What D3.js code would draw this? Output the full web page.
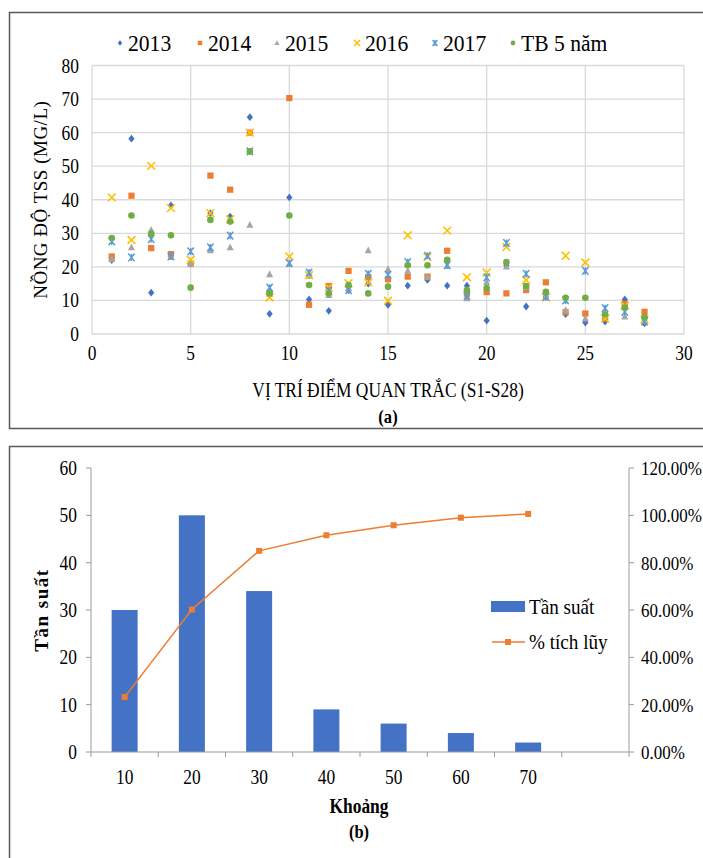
<!DOCTYPE html>
<html>
<head>
<meta charset="utf-8">
<script src="https://cdn.jsdelivr.net/npm/d3@7"></script>
<style>
  body{margin:0;background:#fff;}
  svg text{font-family:"Liberation Serif","Tinos","Times New Roman","DejaVu Serif",serif;}
</style>
</head>
<body>
<div id="chart"></div>
<script>
// chart (a) - TSS by station
const stations = d3.range(1, 29)
const series_names = ["2013","2014","2015","2016","2017","TB 5 năm"]
const v2013 = [22,58.2,12.3,38.3,21,36,35,64.6,6,40.7,10.3,6.9,13,15,8.7,14.4,16.1,14.4,14.4,4.0,20.5,8.2,11,5.9,3.4,3.7,10.3,3.2]
const v2014 = [23.1,41.2,25.6,23.8,21,47.2,43,60,12,70.3,8.7,14.3,18.8,17,16.3,17.1,17.1,24.8,12,12.5,12.1,13.1,15.4,6.5,6.1,4.6,8.9,6.6]
const v2015 = [22.3,25.8,31,23,20.9,24.9,25.8,32.5,17.8,20.9,17.3,11.6,13.6,24.9,19.3,18.8,16.9,20.3,10.6,15.5,20.1,14,10.9,7.1,4.6,5.5,5.2,4.5]
const v2016 = [40.7,28,50.1,37.5,22.1,36,34.2,60,10.9,23.1,17.5,13.9,15.1,15.3,9.9,29.4,22.9,30.8,16.9,18.3,25.9,16.1,10.9,23.3,21.3,4.6,8.4,4.2]
const v2017 = [27.6,22.8,28.3,23.1,24.6,25.8,29.3,54.4,13.8,21.1,18.3,12.9,13.1,17.9,17.6,21.4,23.3,20.5,11.4,16.9,27.1,17.9,11.1,10.0,18.8,7.7,6.6,3.7]
const vAvg = [28.6,35.3,29.9,29.4,13.8,34,33.5,54.4,12.1,35.3,14.6,12.1,14.6,12.1,14.1,20.5,20.5,22.1,13.1,13.7,21.4,14.3,12.6,10.8,10.8,5.9,7.9,5.0]
const xTicksA = [0,5,10,15,20,25,30]
const yTicksA = [0,10,20,30,40,50,60,70,80]

// chart (b) - frequency histogram
const bins = ["10","20","30","40","50","60","70",""]
const freq = [30,50,34,9,6,4,2]
const cumPct = [23.2,60.2,85.0,91.6,95.8,99.0,100.6]
const yTicksB = [0,10,20,30,40,50,60]
const yTicksB2 = [0,20,40,60,80,100,120]

const colors = {"2013":"#4472C4","2014":"#ED7D31","2015":"#A5A5A5","2016":"#FFC000","2017":"#5B9BD5","TB 5 năm":"#70AD47"}
const SX = 0.87   // the picture's text is a bit narrow

const svg = d3.select("#chart").append("svg").attr("width",703).attr("height",858)

drawChartA()
drawChartB()

function tr(x,y,sx){ return `translate(${x},${y}) scale(${sx||SX},1)` }

function label(parent,x,y,str,size,anchor,bold,sx){
    return parent.append("text").attr("transform",tr(x,y,sx)).attr("font-size",size+"px")
    .attr("text-anchor",anchor||"start").attr("font-weight",bold?"bold":"normal").text(str)
}

function marker(g, name, x, y, s){
    const c = colors[name]
    if(name === "2013"){
        g.append("path").attr("d",`M${x},${y-s}L${x+s*0.8},${y}L${x},${y+s}L${x-s*0.8},${y}Z`).attr("fill",c)
    }else if(name === "2014"){
        g.append("rect").attr("x",x-s*0.8).attr("y",y-s*0.8).attr("width",s*1.6).attr("height",s*1.6).attr("fill",c)
    }else if(name === "2015"){
        g.append("path").attr("d",`M${x},${y-s}L${x+s*0.9},${y+s*0.75}L${x-s*0.9},${y+s*0.75}Z`).attr("fill",c)
    }else if(name === "2016"){
        g.append("path").attr("d",`M${x-s},${y-s}L${x+s},${y+s}M${x+s},${y-s}L${x-s},${y+s}`).attr("stroke",c).attr("stroke-width",1.6)
    }else if(name === "2017"){
        g.append("path").attr("d",`M${x-s*0.8},${y-s}L${x+s*0.8},${y+s}M${x+s*0.8},${y-s}L${x-s*0.8},${y+s}M${x},${y-s*0.9}L${x},${y+s*0.9}`).attr("stroke",c).attr("stroke-width",1.5)
    }else{
        g.append("circle").attr("cx",x).attr("cy",y).attr("r",s*0.85).attr("fill",c)
    }
}

function drawChartA(){
    svg.append("rect").attr("x",9.5).attr("y",12.5).attr("width",720).attr("height",416)
    .attr("fill","none").attr("stroke","#595959").attr("stroke-width",1.5)

    const x = d3.scaleLinear().domain([0,30]).range([92,684])
    const y = d3.scaleLinear().domain([0,80]).range([334,65.5])
    const g = svg.append("g")

    g.selectAll(".hgrid").data(yTicksA).enter().append("line").attr("class","hgrid")
    .attr("x1",x(0)).attr("x2",x(30)).attr("y1",d=>y(d)).attr("y2",d=>y(d))
    .attr("stroke","#d9d9d9").attr("stroke-width",1.3)
    g.selectAll(".vgrid").data(xTicksA).enter().append("line").attr("class","vgrid")
    .attr("x1",d=>x(d)).attr("x2",d=>x(d)).attr("y1",y(0)).attr("y2",y(80))
    .attr("stroke","#d9d9d9").attr("stroke-width",1.3)

    g.selectAll(".ylab").data(yTicksA).enter().append("text").attr("class","ylab")
    .attr("transform",d=>tr(79,y(d)+7)).attr("text-anchor","end").attr("font-size","20px").text(d=>d)
    g.selectAll(".xlab").data(xTicksA).enter().append("text").attr("class","xlab")
    .attr("transform",d=>tr(x(d),360)).attr("text-anchor","middle").attr("font-size","20px").text(d=>d)

    const all = [v2013,v2014,v2015,v2016,v2017,vAvg]
    all.forEach((vals,k)=>{
        const name = series_names[k]
        const sg = g.append("g")
        vals.forEach((v,i)=> marker(sg,name,x(stations[i]),y(v),3.9))
    })

    svg.append("text").attr("transform",`translate(47,${y(40)}) rotate(-90)`).attr("text-anchor","middle")
    .attr("font-size","19px").attr("letter-spacing","0.5px").text("NỒNG ĐỘ TSS (MG/L)")
    label(svg,388,397,"VỊ TRÍ ĐIỂM QUAN TRẮC (S1-S28)",20,"middle")
    label(svg,388,423,"(a)",19,"middle",true)

    // legend
    const lx = [120,200,277,357,435,513]
    const lg = svg.append("g")
    series_names.forEach((n,i)=>{
        marker(lg,n,lx[i],43,n==="2016"||n==="2017"?3:2.8)
        label(lg,lx[i]+8,50.5,n,22.5,"start",false,0.96)
    })
}

function drawChartB(){
    svg.append("rect").attr("x",9.5).attr("y",446.5).attr("width",720).attr("height",430)
    .attr("fill","none").attr("stroke","#595959").attr("stroke-width",1.5)

    const x = d3.scaleBand().domain(bins.map((d,i)=>i)).range([91,629])
    const y = d3.scaleLinear().domain([0,60]).range([752,468])
    const y2 = d3.scaleLinear().domain([0,120]).range([752,468])
    const g = svg.append("g")
    const axisColor = "#9a9a9a"

    g.selectAll(".bar").data(freq).enter().append("rect").attr("class","bar")
    .attr("x",(d,i)=>x(i)+x.bandwidth()/2-13).attr("width",26)
    .attr("y",d=>y(d)).attr("height",d=>y(0)-y(d)).attr("fill","#4472C4")

    // axes
    g.append("line").attr("x1",91).attr("x2",91).attr("y1",y(60)).attr("y2",y(0)).attr("stroke",axisColor)
    g.append("line").attr("x1",629).attr("x2",629).attr("y1",y(60)).attr("y2",y(0)).attr("stroke",axisColor)
    g.append("line").attr("x1",91).attr("x2",629).attr("y1",y(0)).attr("y2",y(0)).attr("stroke",axisColor)
    g.selectAll(".lt").data(yTicksB).enter().append("line").attr("class","lt")
    .attr("x1",86).attr("x2",91).attr("y1",d=>y(d)).attr("y2",d=>y(d)).attr("stroke",axisColor)
    g.selectAll(".rt").data(yTicksB2).enter().append("line").attr("class","rt")
    .attr("x1",629).attr("x2",634).attr("y1",d=>y2(d)).attr("y2",d=>y2(d)).attr("stroke",axisColor)
    g.selectAll(".bt").data(d3.range(bins.length+1)).enter().append("line").attr("class","bt")
    .attr("x1",d=>91+d*x.step()).attr("x2",d=>91+d*x.step()).attr("y1",y(0)).attr("y2",y(0)+5).attr("stroke",axisColor)

    g.selectAll(".ylab").data(yTicksB).enter().append("text").attr("class","ylab")
    .attr("transform",d=>tr(77,y(d)+7)).attr("text-anchor","end").attr("font-size","20px").text(d=>d)
    g.selectAll(".y2lab").data(yTicksB2).enter().append("text").attr("class","y2lab")
    .attr("transform",d=>tr(641,y2(d)+7)).attr("font-size","19.5px").text(d=>d.toFixed(2)+"%")
    g.selectAll(".xlab").data(bins).enter().append("text").attr("class","xlab")
    .attr("transform",(d,i)=>tr(x(i)+x.bandwidth()/2,784)).attr("text-anchor","middle").attr("font-size","20px").text(d=>d)

    // cumulative line
    const line = d3.line().x((d,i)=>x(i)+x.bandwidth()/2).y(d=>y2(d))
    g.append("path").datum(cumPct).attr("d",line).attr("fill","none").attr("stroke","#ED7D31").attr("stroke-width",1.5)
    g.selectAll(".pt").data(cumPct).enter().append("rect").attr("class","pt")
    .attr("x",(d,i)=>x(i)+x.bandwidth()/2-3).attr("y",d=>y2(d)-3).attr("width",6).attr("height",6).attr("fill","#ED7D31")

    // titles
    svg.append("text").attr("transform","translate(48,610) rotate(-90)").attr("text-anchor","middle")
    .attr("font-size","19px").attr("font-weight","bold").attr("letter-spacing","1.5px").text("Tần suất")
    label(svg,359,813,"Khoảng",20,"middle",true)
    label(svg,359,838,"(b)",19,"middle",true)

    // legend
    svg.append("rect").attr("x",491).attr("y",601).attr("width",34).attr("height",11).attr("fill","#4472C4")
    label(svg,529,614,"Tần suất",22)
    svg.append("line").attr("x1",492).attr("x2",525).attr("y1",642).attr("y2",642).attr("stroke","#ED7D31").attr("stroke-width",1.5)
    svg.append("rect").attr("x",505).attr("y",639).attr("width",6).attr("height",6).attr("fill","#ED7D31")
    label(svg,529,649,"% tích lũy",22)
}
</script>
</body>
</html>
